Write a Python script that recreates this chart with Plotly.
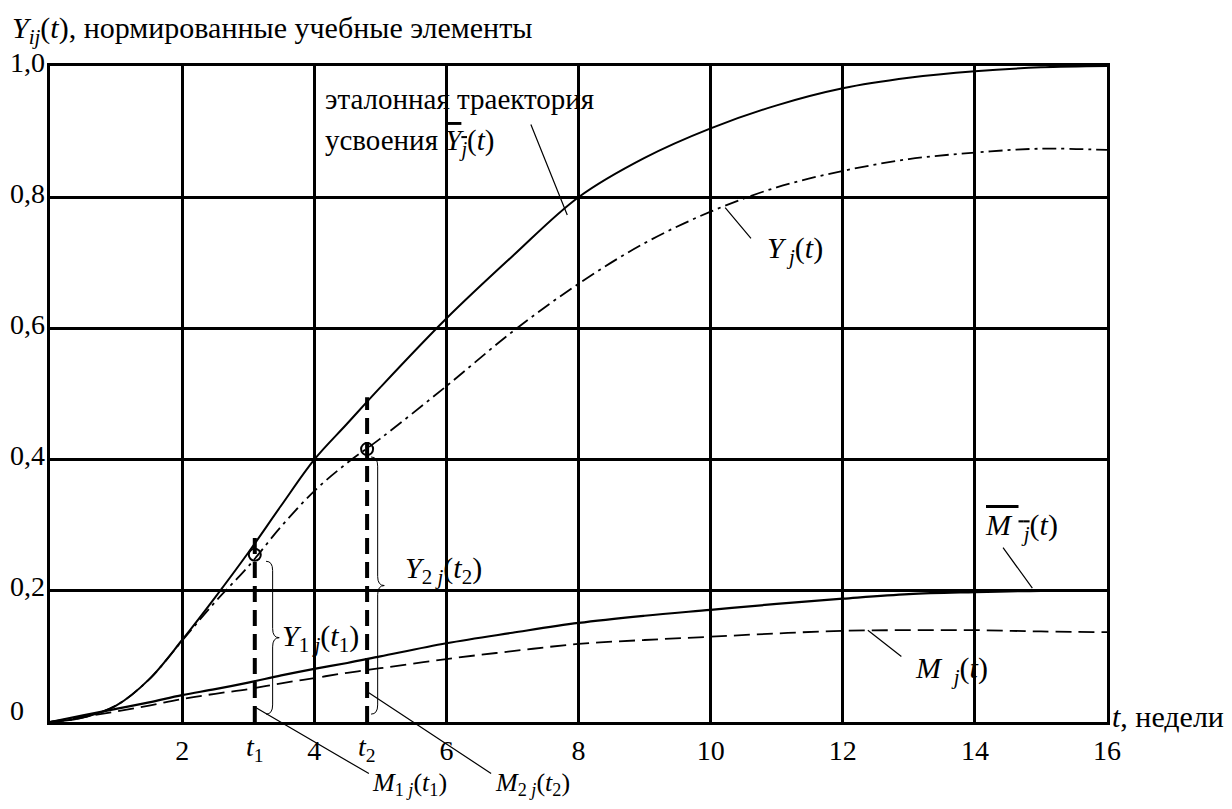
import plotly.graph_objects as go

# ---------------- data ----------------
t = [0, 0.5, 1, 1.5, 2, 2.5, 3, 3.5, 4, 4.5, 5, 6, 7, 8, 9, 10, 11, 12, 13, 14, 15, 16]
y_ref = [0, 0.007, 0.025, 0.065, 0.125, 0.19, 0.258, 0.33, 0.40, 0.455, 0.51,
         0.615, 0.71, 0.80, 0.86, 0.905, 0.94, 0.966, 0.982, 0.992, 0.998, 1.0]
y_act = [0, 0.007, 0.025, 0.065, 0.124, 0.183, 0.237, 0.298, 0.352, 0.395, 0.432,
         0.512, 0.595, 0.668, 0.73, 0.778, 0.815, 0.84, 0.858, 0.868, 0.874, 0.872]
m_ref = [0, 0.01, 0.02, 0.03, 0.041, 0.05, 0.06, 0.071, 0.081, 0.09, 0.10,
         0.12, 0.136, 0.151, 0.162, 0.171, 0.18, 0.188, 0.195, 0.198, 0.2, 0.2]
m_act = [0, 0.008, 0.016, 0.025, 0.035, 0.043, 0.05, 0.059, 0.067, 0.075, 0.082,
         0.096, 0.108, 0.119, 0.125, 0.13, 0.135, 0.139, 0.14, 0.14, 0.138, 0.137]

t_marks = [3.1, 4.8]            # t1, t2
y_ref_marks = [0.285, 0.495]    # reference trajectory at t1, t2
y_act_marks = [0.255, 0.416]    # actual trajectory at t1, t2

x_ticks = [2, 4, 6, 8, 10, 12, 14, 16]
y_ticks = [0, 0.2, 0.4, 0.6, 0.8, 1.0]
y_ticklabels = ["0", "0,2", "0,4", "0,6", "0,8", "1,0"]

X_MAX = 16
FONT = "Liberation Serif"
FS_TICK = 28
FS_TEXT = 29
FS_MATH = 30

fig = go.Figure()

fig.add_trace(go.Scatter(x=t, y=y_ref, mode="lines", line=dict(color="black", width=2, shape="spline"),
                         showlegend=False))
fig.add_trace(go.Scatter(x=t, y=y_act, mode="lines",
                         line=dict(color="black", width=1.8, shape="spline", dash="14px,5px,3px,5px"),
                         showlegend=False))
fig.add_trace(go.Scatter(x=t, y=m_ref, mode="lines", line=dict(color="black", width=2.2, shape="spline"),
                         showlegend=False))
fig.add_trace(go.Scatter(x=t, y=m_act, mode="lines",
                         line=dict(color="black", width=1.8, shape="spline", dash="16px,7px"),
                         showlegend=False))

# vertical thick dashed lines at t1, t2
for tm, yr in zip(t_marks, y_ref_marks):
    fig.add_trace(go.Scatter(x=[tm, tm], y=[0, yr], mode="lines",
                             line=dict(color="black", width=4, dash="16px,8px"), showlegend=False))

# open circles
fig.add_trace(go.Scatter(x=t_marks, y=y_act_marks, mode="markers",
                         marker=dict(symbol="circle-open", size=12, color="black", line=dict(width=2)),
                         showlegend=False, cliponaxis=False))


# braces
def brace(xc, y0, y1, w=0.1, d=0.014):
    ym = (y0 + y1) / 2
    return (f"M {xc - w},{y1} Q {xc},{y1} {xc},{y1 - d} L {xc},{ym + d} "
            f"Q {xc},{ym} {xc + w},{ym} Q {xc},{ym} {xc},{ym - d} L {xc},{y0 + d} "
            f"Q {xc},{y0} {xc - w},{y0}")


brace_x = [3.37, 4.96]
brace_bottom = [0.012, 0.012]
brace_top = [y_act_marks[0] - 0.01, y_act_marks[1] - 0.012]
for bx, b0, b1 in zip(brace_x, brace_bottom, brace_top):
    fig.add_shape(type="path", path=brace(bx, b0, b1), xref="x", yref="y",
                  line=dict(color="black", width=1))

ann = []


def text(x, y, s, xanchor="left", size=FS_MATH, yanchor="middle"):
    # positions given in data units; converted to paper fractions so that
    # labels outside the axis range are still drawn (y range is 0..1)
    ann.append(dict(x=x / X_MAX, y=y, xref="paper", yref="paper", text=s, showarrow=False,
                    xanchor=xanchor, yanchor=yanchor, font=dict(family=FONT, size=size, color="black")))


def leader(xh, yh, xt, yt):
    # head (xh, yh) must lie inside the plot; tail may lie outside
    ann.append(dict(x=xh, y=yh, ax=xt, ay=yt, xref="x", yref="y", axref="x", ayref="y",
                    text="", showarrow=True, arrowhead=0, arrowwidth=1.2, arrowcolor="black", standoff=0))


OV = '<span style="text-decoration:overline">'

text(4.13, 0.95, "эталонная траектория", size=FS_TEXT)
text(4.13, 0.884, "усвоения " + OV + "<i>Y</i><sub><i>j</i></sub></span>(<i>t</i>)", size=FS_TEXT)
leader(7.83, 0.773, 7.27, 0.913)

text(10.82, 0.72, "<i>Y</i><sub> <i>j</i></sub>(<i>t</i>)")
leader(10.22, 0.784, 10.63, 0.735)

text(14.12, 0.297, OV + "<i>M</i> <sub> <i>j</i></sub></span>(<i>t</i>)")
leader(14.87, 0.204, 14.41, 0.268)

text(13.06, 0.079, "<i>M</i> <sub> <i>j</i></sub>(<i>t</i>)")
leader(12.38, 0.14, 12.91, 0.098)

text(3.48, 0.128, "<i>Y</i><sub>1 <i>j</i></sub>(<i>t</i><sub>1</sub>)")
text(5.34, 0.232, "<i>Y</i><sub>2 <i>j</i></sub>(<i>t</i><sub>2</sub>)")

text(4.85, -0.094, "<i>M</i><sub>1 <i>j</i></sub>(<i>t</i><sub>1</sub>)", size=26)
leader(3.1, 0.023, 4.85, -0.08)
text(6.7, -0.094, "<i>M</i><sub>2 <i>j</i></sub>(<i>t</i><sub>2</sub>)", size=26)
leader(4.82, 0.045, 6.7, -0.08)

# t1, t2 tick labels
for tm, lab in zip(t_marks, ["<i>t</i><sub>1</sub>", "<i>t</i><sub>2</sub>"]):
    text(tm, -0.04, lab, xanchor="center", size=FS_TICK)

# y tick labels (left aligned, as in the reference)
for v, lab in zip(y_ticks, y_ticklabels):
    text(-0.64, v + (0.018 if v == 0 else 0.006), lab, xanchor="left", size=FS_TICK)

# axis titles
text(16.04, 0.008, "<i>t</i>, недели", xanchor="left")
text(-0.6, 1.055, "<i>Y</i><sub><i>ij</i></sub>(<i>t</i>), нормированные учебные элементы")

fig.update_layout(
    width=1216, height=793,
    margin=dict(l=42, r=117, t=58, b=79),
    font=dict(family=FONT, size=FS_TICK, color="black"),
    paper_bgcolor="white", plot_bgcolor="white",
    annotations=ann,
    showlegend=False,
    xaxis=dict(range=[0, X_MAX], tickvals=x_ticks, ticktext=[str(v) for v in x_ticks],
               showgrid=True, gridcolor="black", gridwidth=2.5, automargin=False,
               showline=True, linecolor="black", linewidth=2.5, mirror=True,
               zeroline=False, ticks="", ticklabelstandoff=2,
               tickfont=dict(family=FONT, size=FS_TICK, color="black")),
    yaxis=dict(range=[0, 1.0], tickvals=y_ticks, showticklabels=False,
               showgrid=True, gridcolor="black", gridwidth=2.5, automargin=False,
               showline=True, linecolor="black", linewidth=2.5, mirror=True,
               zeroline=False, ticks=""),
)

fig.write_html("out.html")
